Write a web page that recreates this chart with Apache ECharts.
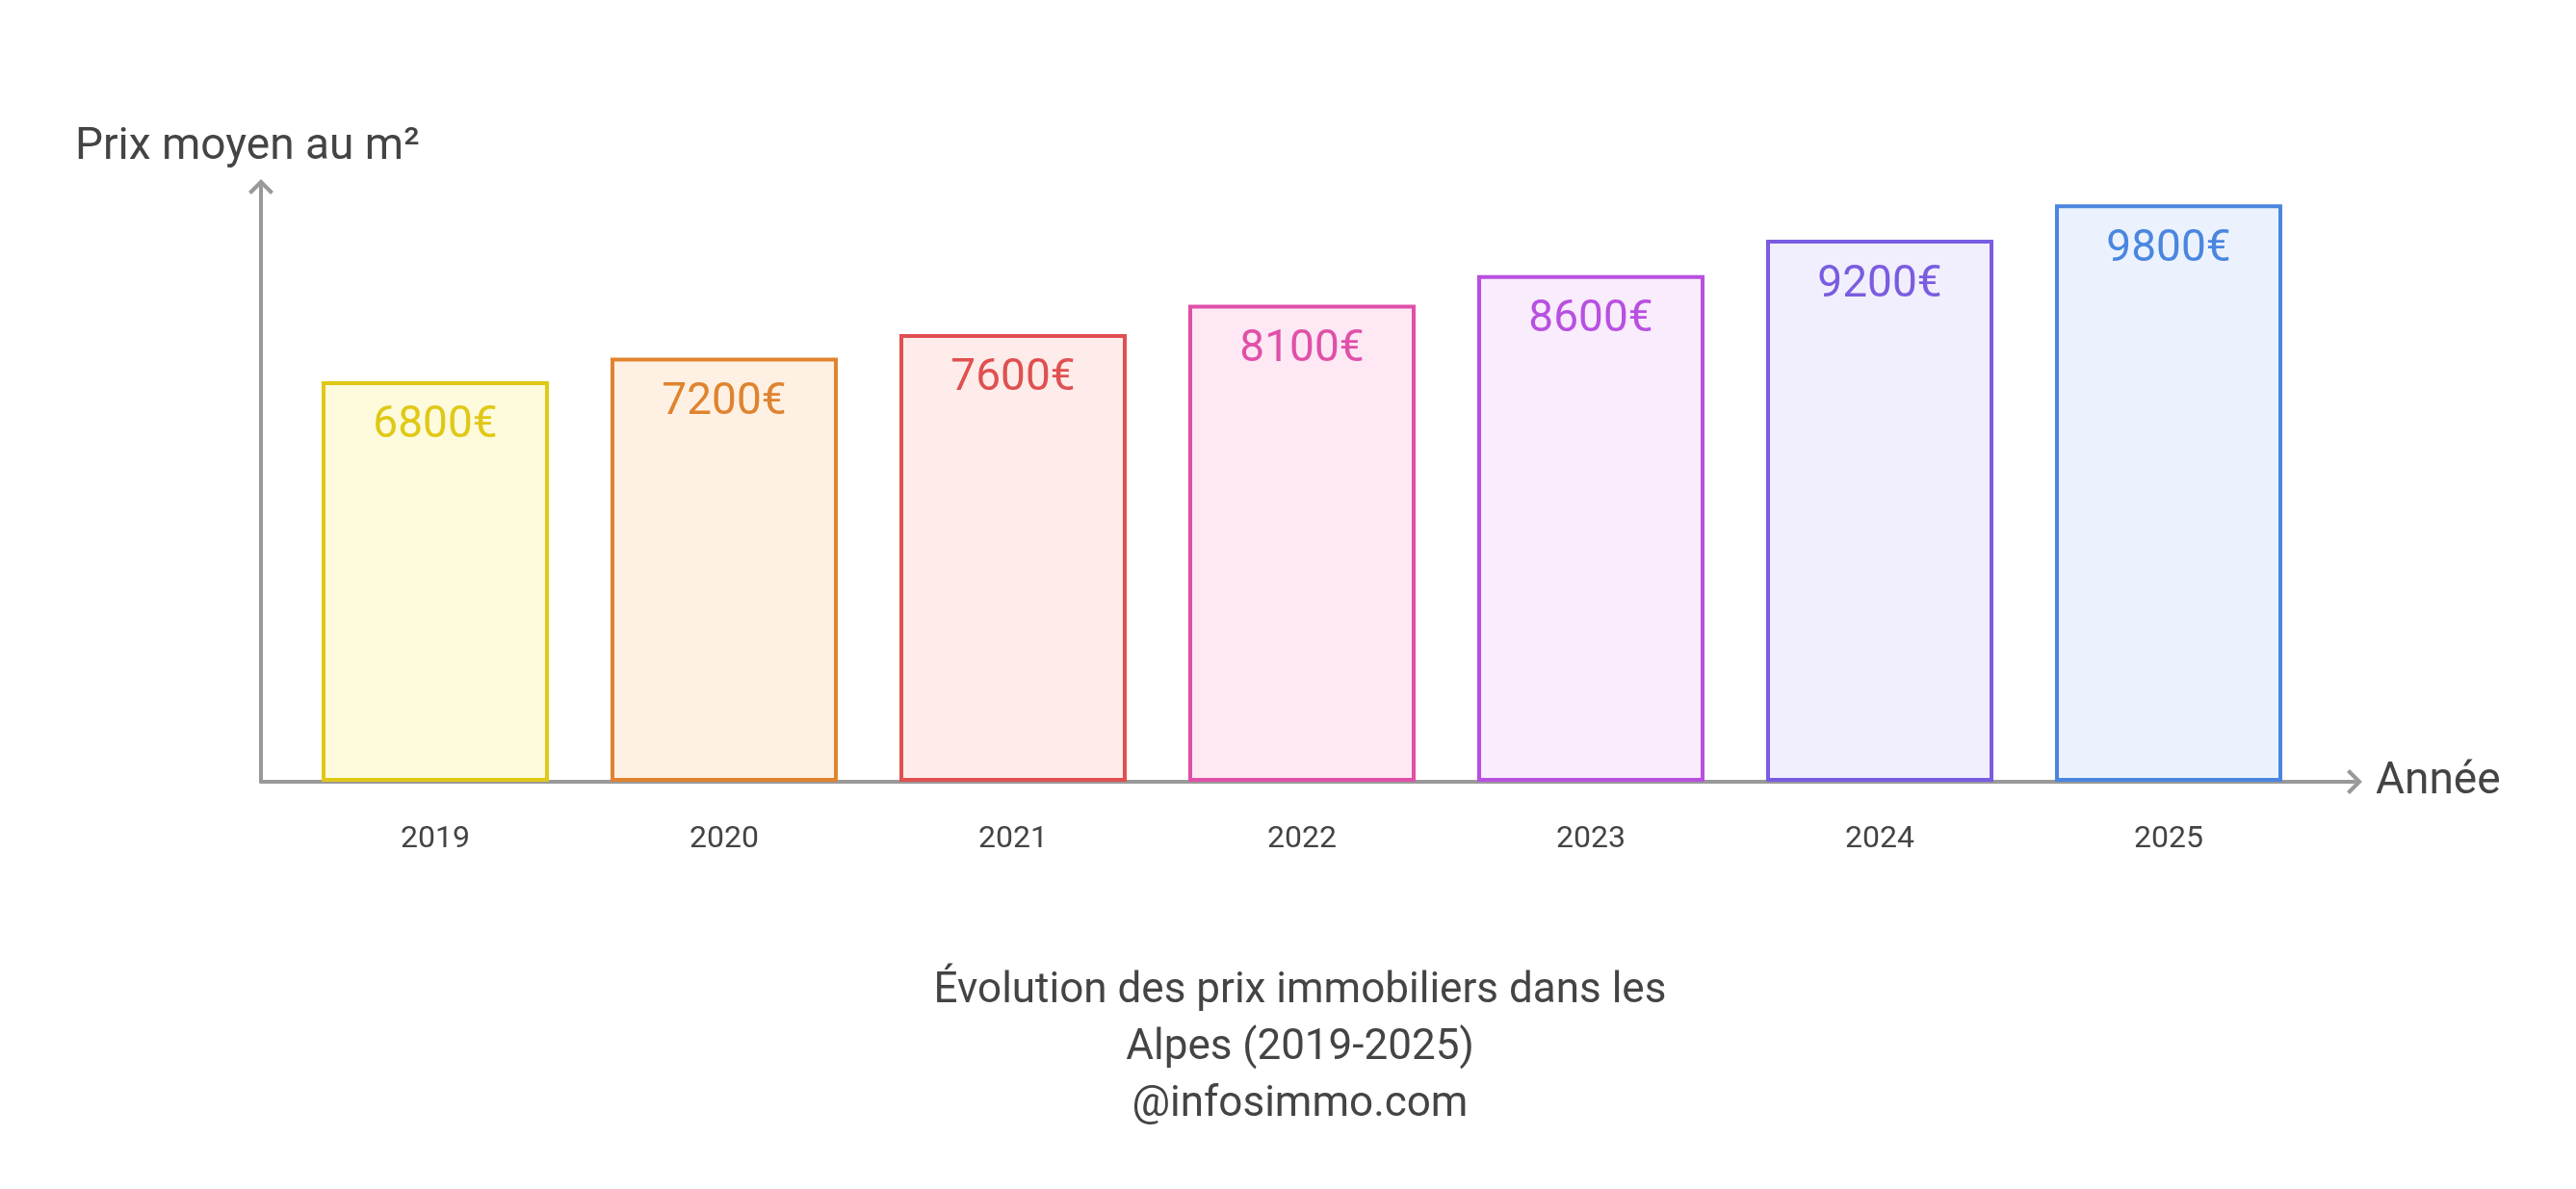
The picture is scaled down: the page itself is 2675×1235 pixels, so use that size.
<!DOCTYPE html><html><head><meta charset="utf-8"><script src="https://cdn.jsdelivr.net/npm/echarts@6/dist/echarts.min.js"></script>
<style>html,body{margin:0;background:#fff}#c{width:2675px;height:1235px}</style></head><body><div id="c"></div><script>
const years=['2019','2020','2021','2022','2023','2024','2025'];
const prices=[6800,7200,7600,8100,8600,9200,9800];
const borders=['#e0c815','#e0832f','#e05050','#e050a8','#b850e0','#7a5ce0','#4a86e0'];
const fills=['#fefadc','#fef1e4','#fdecea','#fde8f4','#f9ecfd','#f1effd','#ebf2fd'];
const F='Roboto';
const chev='path://M0,11 L11,0 L22,11 L19.5,13.5 L11,5 L2.5,13.5 Z';
const c=echarts.init(document.getElementById('c'));
c.setOption({
 animation:false,
 textStyle:{fontFamily:F},
 title:{text:'Évolution des prix immobiliers dans les\nAlpes (2019-2025)\n@infosimmo.com',left:1345,textAlign:'center',top:995,
  textStyle:{fontFamily:F,fontSize:44,fontWeight:'normal',color:'#444',lineHeight:59}},
 grid:[{left:271,right:230,top:194,bottom:423},{left:302,right:273,top:194,bottom:423}],
 xAxis:[{gridIndex:0,type:'value',min:0,max:1,axisLine:{show:true,lineStyle:{color:'#999',width:4},symbol:['none',chev],symbolSize:[26,16]},
   axisTick:{show:false},axisLabel:{show:false},splitLine:{show:false},name:'Année',nameGap:22,nameTextStyle:{fontFamily:F,fontSize:46,color:'#444'}},
  {gridIndex:1,type:'category',data:years,axisLine:{show:false},axisTick:{show:false},axisLabel:{margin:44,fontSize:32,color:'#444',fontFamily:F}}],
 yAxis:[{gridIndex:0,type:'value',min:0,max:1,axisLine:{show:true,lineStyle:{color:'#999',width:4},symbol:['none',chev],symbolSize:[26,16]},
   axisTick:{show:false},axisLabel:{show:false},splitLine:{show:false}},
  {gridIndex:1,type:'value',min:0,max:10100,show:false}],
 graphic:[{type:'text',left:78,top:130,style:{text:'Prix moyen au m²',font:'46px Roboto',fill:'#444'}}],
 series:[{type:'bar',xAxisIndex:1,yAxisIndex:1,barWidth:236,
  data:prices.map((v,i)=>({value:v,itemStyle:{color:fills[i],borderColor:borders[i],borderWidth:4},label:{color:borders[i]}})),
  label:{show:true,position:'insideTop',distance:24,fontSize:46,fontFamily:F,formatter:p=>p.value+'€'}}]
});
</script></body></html>
